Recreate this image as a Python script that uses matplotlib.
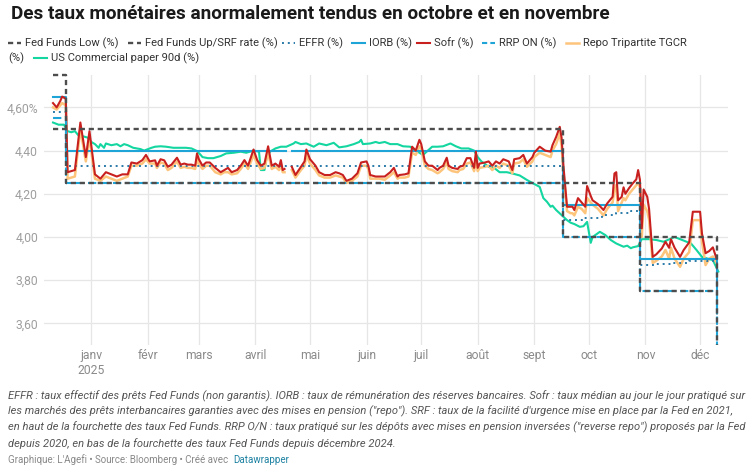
import matplotlib.pyplot as plt
from matplotlib.lines import Line2D
import numpy as np
import pandas as pd

plt.rcParams['font.family'] = ['Roboto', 'DejaVu Sans']

nan = np.nan

# jours depuis le 1er janvier 2025
sofr_days = [-21, -19, -17, -16, -14, -13, -9, -6, -3, -1, 2, 5, 8, 11, 14, 17, 20, 22, 25, 28,
             30, 32, 35, 36, 38, 40, 42, 44, 47, 49, 51, 53, 55, 57, 58, 59, 61, 63, 65, 68,
             71, 73, 75, 77, 80, 82, 84, 86, 89, 91, 93, 95, 97, 99, 101, 103, 104, 105, 106, 107,
             110, 112, 115, 117, 118, 120, 123, 125, 128, 131, 134, 136, 138, 140, 143, 146, 148, 151, 152, 153,
             156, 158, 161, 164, 166, 168, 169, 172, 174, 176, 178, 180, 181, 183, 185, 187, 190, 191, 193, 195,
             196, 198, 201, 202, 204, 206, 208, 210, 211, 212, 213, 216, 218, 220, 222, 224, 226, 229, 231, 232,
             235, 237, 239, 242, 243, 246, 249, 252, 253, 255, 257, 258, 259, 261, 263, 264, 265, 267, 269, 271,
             272, 274, 275, 278, 281, 283, 286, 287, 288, 289, 291, 292, 293, 295, 297, 299, 300, 301, 302, 303,
             305, 306, 308, 310, 313, 315, 317, 318, 320, 323, 325, 328, 330, 334, 335, 337, 339, 341, 343]
sofr = [4.62, 4.60, 4.63, 4.65, 4.64, 4.30, 4.31, 4.53, 4.37, 4.49, 4.29, 4.27, 4.30, 4.29, 4.28, 4.29, 4.29, 4.345, 4.34, 4.356,
        4.38, 4.35, 4.355, 4.33, 4.36, 4.355, 4.325, 4.335, 4.367, 4.335, 4.34, 4.335, 4.335, 4.33, 4.387, 4.36, 4.33, 4.345, 4.345, 4.32,
        4.30, 4.31, 4.32, 4.30, 4.31, 4.33, 4.356, 4.33, 4.405, 4.356, 4.33, 4.34, 4.42, 4.33, 4.34, 4.325, 4.356, 4.31, 4.315, nan,
        4.325, 4.287, 4.325, 4.35, 4.405, 4.36, 4.33, 4.30, 4.287, 4.287, 4.30, 4.295, 4.287, 4.26, 4.27, 4.295, 4.345, 4.35, 4.33, 4.287,
        4.28, 4.28, 4.28, 4.30, 4.32, 4.28, 4.287, 4.29, 4.295, 4.418, 4.40, 4.45, 4.43, 4.35, 4.33, 4.33, 4.31, 4.32, 4.33, 4.367,
        4.33, 4.32, 4.315, 4.325, 4.33, 4.365, 4.365, 4.32, 4.395, 4.32, 4.34, 4.345, 4.35, 4.33, 4.35, 4.34, 4.36, 4.35, 4.31, 4.36,
        4.365, 4.38, 4.34, 4.37, 4.39, 4.418, 4.40, 4.395, 4.425, 4.463, 4.51, 4.46, 4.33, 4.14, 4.14, 4.14, 4.125, 4.18, 4.16, 4.14,
        4.236, 4.19, 4.17, 4.152, 4.125, 4.155, 4.186, 4.294, 4.30, 4.17, 4.186, 4.23, 4.20, 4.226, 4.248, 4.267, 4.31, 4.264, 4.04, 4.22,
        4.186, 4.13, 3.908, 3.92, 3.947, 3.978, 3.95, 3.99, 3.95, 3.908, 3.94, 3.975, 4.117, 4.117, 4.017, 3.925, 3.935, 3.952, 3.90]
tgcr = [4.60, 4.59, 4.61, 4.62, 4.61, 4.27, 4.28, 4.50, 4.35, 4.46, 4.27, 4.26, 4.28, 4.27, 4.26, 4.27, 4.28, 4.33, 4.33, 4.34,
        4.36, 4.34, 4.34, 4.32, 4.345, 4.34, 4.31, 4.32, 4.35, 4.32, 4.325, 4.32, 4.32, 4.315, 4.36, 4.34, 4.315, 4.33, 4.33, 4.30,
        4.29, 4.30, 4.30, 4.29, 4.295, 4.315, 4.34, 4.315, 4.38, 4.34, 4.315, 4.32, 4.39, 4.315, 4.325, 4.31, 4.335, 4.30, 4.30, nan,
        4.31, 4.275, 4.31, 4.33, 4.38, 4.34, 4.31, 4.285, 4.275, 4.275, 4.285, 4.28, 4.275, 4.25, 4.26, 4.28, 4.33, 4.33, 4.315, 4.27,
        4.27, 4.27, 4.265, 4.285, 4.30, 4.27, 4.275, 4.275, 4.28, 4.39, 4.38, 4.42, 4.41, 4.33, 4.315, 4.31, 4.295, 4.30, 4.315, 4.345,
        4.315, 4.305, 4.30, 4.31, 4.315, 4.34, 4.345, 4.305, 4.36, 4.305, 4.32, 4.325, 4.33, 4.31, 4.33, 4.32, 4.34, 4.33, 4.295, 4.34,
        4.345, 4.36, 4.325, 4.35, 4.37, 4.39, 4.38, 4.37, 4.40, 4.43, 4.48, 4.42, 4.30, 4.12, 4.11, 4.11, 4.10, 4.14, 4.13, 4.11,
        4.18, 4.16, 4.15, 4.13, 4.10, 4.13, 4.16, 4.22, 4.24, 4.12, 4.16, 4.18, 4.17, 4.20, 4.22, 4.24, 4.25, 4.23, 4.00, 4.15,
        4.12, 4.08, 3.88, 3.89, 3.91, 3.94, 3.90, 3.95, 3.90, 3.862, 3.90, 3.93, 4.078, 4.078, 3.98, 3.87, 3.90, 3.91, 3.88]

cp_days = [-21, -18, -15, -13, -11, -9, -7, -4, -2, 0, 2, 4, 5, 7, 8, 11, 14, 16, 18, 20,
           23, 27, 29, 33, 35, 38, 41, 45, 49, 52, 55, 58, 60, 61, 64, 67, 71, 74, 78, 82,
           85, 89, 92, 93, 95, 96, 98, 101, 104, 107, 111, 112, 115, 118, 122, 125, 129, 133, 136, 140,
           144, 147, 148, 149, 153, 156, 158, 161, 164, 168, 171, 175, 178, 180, 182, 184, 187, 190, 193, 197,
           200, 203, 207, 210, 212, 214, 218, 221, 224, 228, 231, 235, 239, 242, 246, 248, 250, 252, 253, 255,
           259, 261, 263, 265, 268, 270, 272, 274, 275, 279, 282, 285, 288, 292, 294, 296, 297, 300, 302, 306,
           310, 314, 318, 320, 323, 326, 329, 332, 335, 338, 341, 344]
cp90 = [4.53, 4.52, 4.52, 4.49, 4.485, 4.49, 4.47, 4.465, 4.46, 4.44, 4.43, 4.413, 4.43, 4.413, 4.433, 4.425, 4.43, 4.42, 4.43, 4.425,
        4.413, 4.407, 4.40, 4.413, 4.418, 4.42, 4.418, 4.413, 4.413, 4.413, 4.41, 4.398, 4.38, 4.37, 4.365, 4.365, 4.375, 4.387, 4.39, 4.395,
        4.39, 4.40, 4.395, 4.31, 4.31, 4.36, 4.395, 4.41, 4.418, 4.418, 4.433, 4.44, 4.43, 4.433, 4.418, 4.433, 4.425, 4.436, 4.415, 4.42,
        4.43, 4.44, 4.45, 4.43, 4.433, 4.44, 4.435, 4.44, 4.43, 4.43, 4.42, 4.418, 4.40, 4.39, 4.38, 4.395, 4.418, 4.418, 4.42, 4.433,
        4.42, 4.41, 4.41, 4.40, 4.37, 4.35, 4.325, 4.32, 4.30, 4.30, 4.294, 4.285, 4.264, 4.25, 4.232, 4.18, 4.163, 4.14, 4.145, 4.125,
        4.094, 4.078, 4.066, 4.06, 4.047, 4.05, 4.07, 3.973, 4.00, 4.024, 4.009, 3.986, 3.97, 3.955, 3.96, 3.948, 3.952, 3.958, 3.99, 3.99,
        3.986, 3.978, 3.993, 4.00, 3.99, 3.98, 3.97, 3.94, 3.908, 3.90, 3.893, 3.84]

# paliers des taux directeurs
step_days = [-21, -14, 259, 301, 343]
ff_low = [4.50, 4.25, 4.00, 3.75, 3.50]
ff_up = [4.75, 4.50, 4.25, 4.00, 3.75]
rrp = [4.55, 4.25, 4.00, 3.75, 3.50]
iorb_days = [-21, -14, 106, 107, 110, 259, 301, 343]
iorb = [4.65, 4.40, 4.40, nan, 4.40, 4.15, 3.90, 3.65]
effr_days = [-21, -14, 259, 270, 280, 288, 296, 301, 310, 318, 328, 343]
effr = [4.58, 4.33, 4.08, 4.09, 4.10, 4.11, 4.12, 3.87, 3.875, 3.88, 3.89, 3.64]

month_starts = ['2025-01-01', '2025-02-01', '2025-03-01', '2025-04-01', '2025-05-01', '2025-06-01',
                '2025-07-01', '2025-08-01', '2025-09-01', '2025-10-01', '2025-11-01', '2025-12-01']
month_labels = ['janv\n2025', 'févr', 'mars', 'avril', 'mai', 'juin', 'juil', 'août', 'sept', 'oct', 'nov', 'déc']
y_ticks = [3.60, 3.80, 4.00, 4.20, 4.40, 4.60]
y_labels = ['3,60', '3,80', '4,00', '4,20', '4,40', '4,60%']

title = "Des taux monétaires anormalement tendus en octobre et en novembre"
notes = [
    "EFFR : taux effectif des prêts Fed Funds (non garantis). IORB : taux de rémunération des réserves bancaires. Sofr : taux médian au jour le jour pratiqué sur",
    "les marchés des prêts interbancaires garanties avec des mises en pension (\"repo\"). SRF : taux de la facilité d'urgence mise en place par la Fed en 2021,",
    "en haut de la fourchette des taux Fed Funds. RRP O/N : taux pratiqué sur les dépôts avec mises en pension inversées (\"reverse repo\") proposés par la Fed",
    "depuis 2020, en bas de la fourchette des taux Fed Funds depuis décembre 2024.",
]

base = pd.Timestamp('2025-01-01')
def to_dates(days):
    return base + pd.to_timedelta(days, unit='D')

W, H = 753, 465
fig = plt.figure(figsize=(W / 100, H / 100), dpi=100)
fig.patch.set_facecolor('white')
ax = fig.add_axes([44 / W, 1 - 345 / H, (728 - 44) / W, (345 - 75) / H])

ax.set_ylim(3.50, 4.75)
ax.set_xlim(base + pd.Timedelta(days=-25.95), base + pd.Timedelta(days=349.3))

# grille
grid_c = '#e6e6e6'
for v in y_ticks:
    ax.axhline(v, color=grid_c, lw=0.9, zorder=0)
for m in month_starts:
    ax.axvline(pd.Timestamp(m), color=grid_c, lw=0.9, zorder=0)

c_gray = '#4d4d4d'
c_effr = '#2a7aa8'
c_iorb = '#1ea4d6'
c_sofr = '#c8201e'
c_rrp = '#1ea4d6'
c_tgcr = '#fdc47c'
c_cp = '#13d6a0'

ax.plot(to_dates(cp_days), cp90, color=c_cp, lw=1.5, zorder=2)
ax.plot(to_dates(sofr_days), tgcr, color=c_tgcr, lw=1.8, zorder=3)
ax.plot(to_dates(iorb_days), iorb, color=c_iorb, lw=1.5, drawstyle='steps-post', zorder=4)
ax.plot(to_dates(effr_days), effr, color=c_effr, lw=1.4, ls=(0, (1, 2)), drawstyle='steps-post', zorder=4)
ax.plot(to_dates(sofr_days), sofr, color=c_sofr, lw=1.5, zorder=5)
ax.plot(to_dates(step_days), rrp, color=c_rrp, lw=1.5, ls=(0, (4, 2)), drawstyle='steps-post', zorder=6)
ax.plot(to_dates(step_days), ff_low, color=c_gray, lw=1.7, ls=(0, (2.2, 1.6)), drawstyle='steps-post', zorder=7, clip_on=False)
ax.plot(to_dates(step_days), ff_up, color=c_gray, lw=1.7, ls=(0, (2.2, 1.6)), drawstyle='steps-post', zorder=7, clip_on=False)

for s in ax.spines.values():
    s.set_visible(False)
ax.set_yticks(y_ticks)
ax.set_yticklabels(y_labels)
ax.set_xticks([pd.Timestamp(m) for m in month_starts])
ax.set_xticklabels(month_labels)
ax.tick_params(axis='y', length=0, pad=4.3, labelsize=8.7, labelcolor='#9e9e9e')
ax.tick_params(axis='x', length=0, pad=3, labelsize=8.7, labelcolor='#8a8a8a')
ax.set_facecolor('none')

def fx(px):
    return px / W

def fy(py):
    return 1 - py / H

# titre
fig.text(fx(11), fy(14), title, fontsize=13.6, fontweight='bold', color='#1a1a1a', va='center', ha='left')

# legende faite a la main (retour a la ligne comme l'original)
legend_items = [
    (8, 43, 'Fed Funds Low (%)', c_gray, (0, (2.2, 1.6)), 1.7),
    (128, 43, 'Fed Funds Up/SRF rate (%)', c_gray, (0, (2.2, 1.6)), 1.7),
    (282, 43, 'EFFR (%)', c_effr, (0, (1, 2)), 1.4),
    (352, 43, 'IORB (%)', c_iorb, '-', 1.5),
    (417, 43, 'Sofr (%)', c_sofr, '-', 1.5),
    (482, 43, 'RRP ON (%)', c_rrp, (0, (2.5, 1.5)), 1.5),
    (566, 43, 'Repo Tripartite TGCR', c_tgcr, '-', 1.8),
    (34, 58, 'US Commercial paper 90d (%)', c_cp, '-', 1.5),
]
for px, py, label, col, ls, lw in legend_items:
    fig.add_artist(Line2D([fx(px), fx(px + 13)], [fy(py), fy(py)], color=col, ls=ls, lw=lw))
    fig.text(fx(px + 17), fy(py), label, fontsize=8, color='#333333', va='center', ha='left')
fig.text(fx(8), fy(58), '(%)', fontsize=8, color='#333333', va='center', ha='left')

# notes
for i, line in enumerate(notes):
    fig.text(fx(8), fy(396 + i * 15.7), line, fontsize=8.0, style='italic', color='#555555', va='center', ha='left')

fig.text(fx(8), fy(460), "Graphique: L'Agefi • Source: Bloomberg • Créé avec", fontsize=7, color='#888888', va='center', ha='left')
fig.text(fx(233), fy(460), "Datawrapper", fontsize=7, color='#1d81a2', va='center', ha='left')

fig.savefig('out.png', dpi=100)
